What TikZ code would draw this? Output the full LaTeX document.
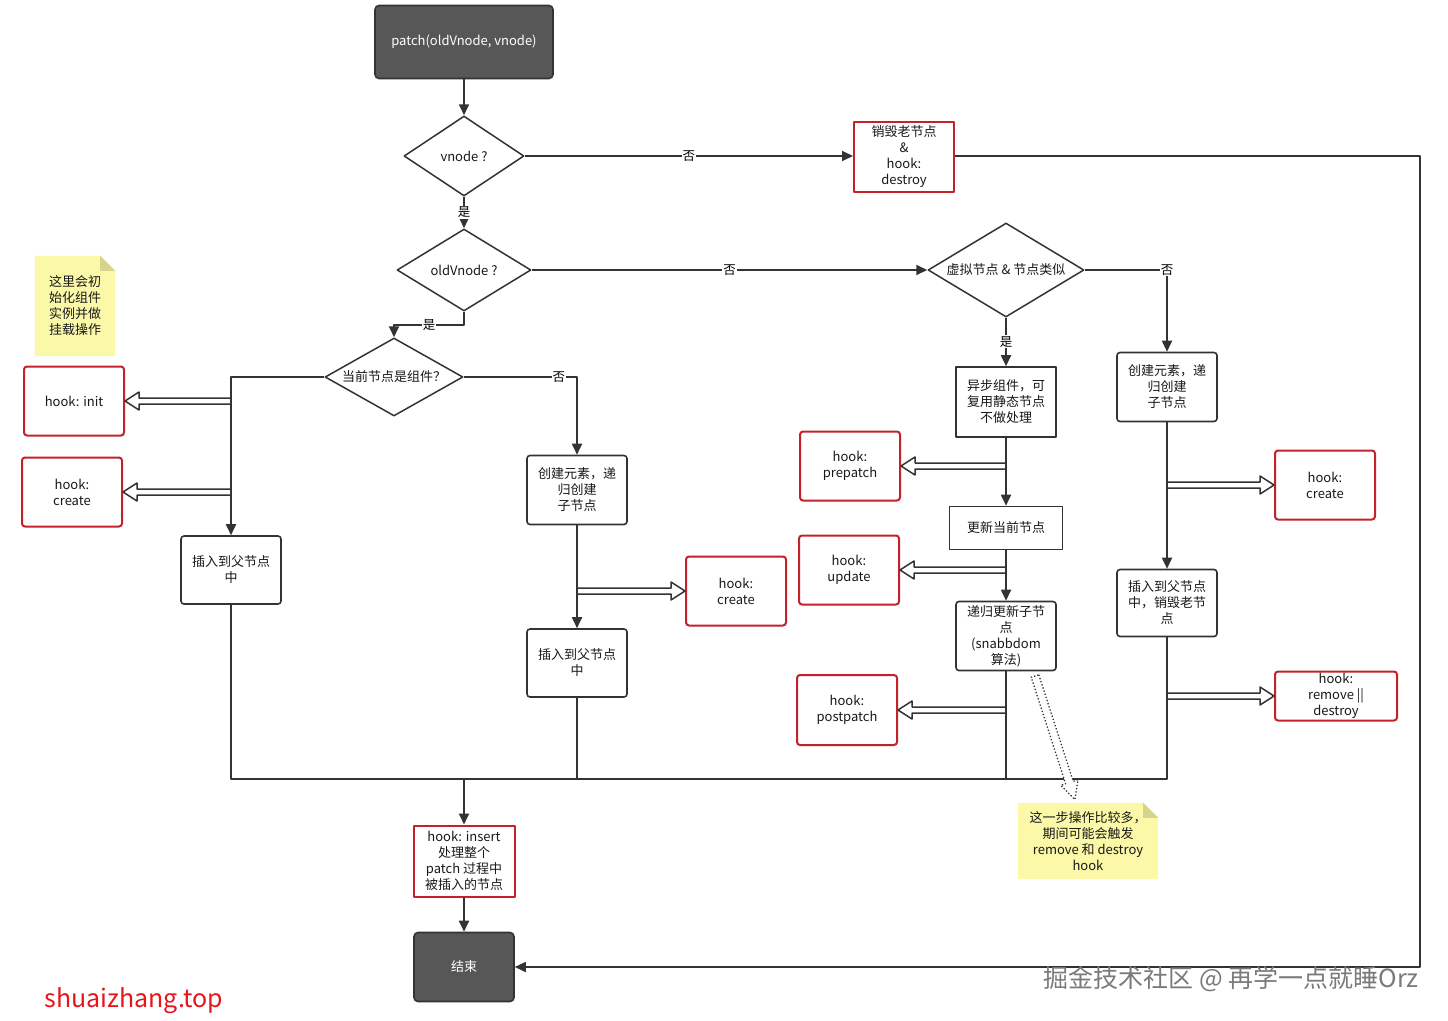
\documentclass[tikz,border=0pt]{standalone}
\usepackage{fontspec}
\setmainfont{Noto Sans CJK SC}
\usetikzlibrary{shapes.geometric,arrows.meta,calc,backgrounds}
\definecolor{lc}{HTML}{333333}
\definecolor{hred}{RGB}{196,34,42}
\definecolor{dark}{HTML}{575757}
\definecolor{notey}{HTML}{FBF8A8}
\definecolor{notefold}{HTML}{D6D38C}
\definecolor{wmgray}{HTML}{7A7A7A}
\definecolor{sitered}{HTML}{E8141B}
\newcommand{\hollowleft}[2]{\draw[hollow] ($(#1 |- #2)+(0,-3)$) -- ($(#2.east)+(14,-3)$) -- ++(0,-6) -- (#2.east) -- ($(#2.east)+(14,9)$) -- ++(0,-6) -- ($(#1 |- #2)+(0,3)$);}
\newcommand{\hollowright}[2]{\draw[hollow] ($(#1 |- #2)+(0,-3)$) -- ($(#2.west)+(-14,-3)$) -- ++(0,-6) -- (#2.west) -- ($(#2.west)+(-14,9)$) -- ++(0,-6) -- ($(#1 |- #2)+(0,3)$);}
\begin{document}
\begin{tikzpicture}[x=1pt,y=-1pt,line join=round,
  font=\fontsize{13}{16}\selectfont,
  base/.style={align=center, inner sep=0pt, text=black!90},
  blk/.style={base, draw=lc, line width=1.6pt, rounded corners=3pt, minimum width=100pt, minimum height=69pt},
  sq/.style={blk, rounded corners=0pt},
  redbox/.style={base, draw=hred, line width=2pt, rounded corners=3pt, minimum width=100pt, minimum height=69pt},
  darkbox/.style={base, draw=lc, fill=dark, text=white, line width=1.6pt, rounded corners=4pt},
  dia/.style={base, diamond, draw=lc, line width=1.5pt},
  note/.style={base},
  lbl/.style={fill=white, inner sep=1pt, font=\fontsize{12.5}{14}\selectfont},
  conn/.style={draw=lc, line width=1.8pt},
  arr/.style={conn, -{Triangle[length=11pt,width=10pt]}},
  hollow/.style={draw=lc, line width=1.5pt, fill=white}]
\useasboundingbox (0,0) rectangle (1448,1020);

% nodes
\node[darkbox, minimum width=178pt, minimum height=73pt] (start) at (464,42) {patch(oldVnode, vnode)};
\node[dia, aspect=1.5, minimum width=120pt, minimum height=80pt] (vn) at (464,156) {vnode ?};
\node[redbox, minimum height=70pt, rounded corners=0pt] (des) at (904,157) {销毁老节点\\\&\\hook:\\destroy};
\node[dia, aspect=1.63, minimum width=134pt, minimum height=82pt] (old) at (464,270) {oldVnode ?};
\node[dia, aspect=1.66, minimum width=156pt, minimum height=94pt] (sim) at (1006,270) {虚拟节点 \& 节点类似};
\node[dia, aspect=1.77, minimum width=138pt, minimum height=78pt] (comp) at (394,377) {当前节点是组件？};

\node[redbox] (init) at (74,401) {hook: init};
\node[redbox] (crL) at (72,492) {hook:\\create};
\node[blk, minimum height=68pt] (insL) at (231,570) {插入到父节点\\中};
\node[blk] (crM) at (577,490) {创建元素，递\\归创建\\子节点};
\node[redbox] (hcM) at (736,591) {hook:\\create};
\node[blk, minimum height=68pt] (insM) at (577,663) {插入到父节点\\中};

\node[sq, minimum height=70pt] (async) at (1006,402) {异步组件，可\\复用静态节点\\不做处理};
\node[redbox] (pre) at (850,466) {hook:\\prepatch};
\node[sq, minimum width=113pt, minimum height=43pt] (upd) at (1006,528) {更新当前节点};
\node[redbox] (hup) at (849,570) {hook:\\update};
\node[blk] (rec) at (1006,636) {递归更新子节\\点\\(snabbdom\\算法)};
\node[redbox, minimum height=70pt] (post) at (847,710) {hook:\\postpatch};

\node[blk] (crR) at (1167,387) {创建元素，递\\归创建\\子节点};
\node[redbox] (hcR) at (1325,485) {hook:\\create};
\node[blk, minimum height=67pt] (insR) at (1167,603) {插入到父节点\\中，销毁老节\\点};
\node[redbox, minimum width=122pt, minimum height=49pt] (hrm) at (1336,696) {hook:\\remove ||\\destroy};

\node[redbox, minimum width=101pt, minimum height=71pt, rounded corners=0pt] (hins) at (464,861) {hook: insert\\处理整个\\patch 过程中\\被插入的节点};
\node[darkbox, minimum width=100pt, minimum height=69pt] (end) at (464,967) {结束};

\node[note, minimum width=80pt, minimum height=100pt] (n1) at (75,306) {这里会初\\始化组件\\实例并做\\挂载操作};
\node[note, minimum width=140pt, minimum height=76pt] (n2) at (1088,841) {这一步操作比较多，\\期间可能会触发\\remove 和 destroy\\hook};

\begin{scope}[on background layer]
\fill[white] (0,0) rectangle (1448,1020);
\fill[notey] (n1.north west) -- ($(n1.north east)+(-15,0)$) -- ($(n1.north east)+(0,15)$) -- (n1.south east) -- (n1.south west) -- cycle;
\fill[notefold] ($(n1.north east)+(-15,0)$) -- ($(n1.north east)+(0,15)$) -- ($(n1.north east)+(-15,15)$) -- cycle;
\fill[notey] (n2.north west) -- ($(n2.north east)+(-15,0)$) -- ($(n2.north east)+(0,15)$) -- (n2.south east) -- (n2.south west) -- cycle;
\fill[notefold] ($(n2.north east)+(-15,0)$) -- ($(n2.north east)+(0,15)$) -- ($(n2.north east)+(-15,15)$) -- cycle;
\end{scope}

% hollow arrows
\hollowleft{insL}{init}
\hollowleft{insL}{crL}
\hollowright{crM}{hcM}
\hollowleft{async}{pre}
\hollowleft{async}{hup}
\hollowleft{async}{post}
\hollowright{crR}{hcR}
\hollowright{crR}{hrm}

% connectors
\draw[arr] (start) -- (vn);
\draw[arr] (vn.east) -- node[lbl]{否} (vn -| des.west);
\draw[arr] (vn) -- node[lbl]{是} (old);
\draw[arr] (old) -- node[lbl]{否} (sim);
\draw[arr] (old.south) -- ++(0,13) -| node[lbl,pos=0.25]{是} (comp.north);
\draw[arr] (comp.west) -| (insL.north);
\draw[arr] (comp.east) -| node[lbl,pos=0.42]{否} (crM.north);
\draw[arr] (crM) -- (insM);
\coordinate (m) at (464,779);
\draw[conn] (insL.south) |- (m);
\draw[conn] (insM.south) |- (m);
\draw[conn] (rec.south) |- (m);
\draw[conn] (insR.south) |- (m);
\draw[arr] (m) -- (hins);
\draw[arr] (hins) -- (end);
\coordinate (rt) at (1420,156);
\draw[arr] (des.east |- vn) -- (rt) |- (end.east);
\draw[arr] (sim) -- node[lbl]{是} (async);
\draw[arr] (sim.east) -| node[lbl,pos=0.5]{否} (crR.north);
\draw[arr] (async) -- (upd);
\draw[arr] (upd) -- (rec);
\draw[arr] (crR) -- (insR);

% dotted hollow arrow to note
\draw[lc, line width=1.3pt, dotted, fill=white] (1038.8,674.8) -- (1073.2,781.3) -- (1078.0,779.7) -- (1074.9,799.6) -- (1060.8,785.3) -- (1065.6,783.7) -- (1031.2,677.2) -- cycle;

% texts
\node[anchor=east, text=wmgray, font=\fontsize{25}{25}\selectfont] (wm) at (1422,979) {掘金技术社区 @ 再学一点就睡Orz};
\node[anchor=west, text=sitered, font=\fontsize{25}{25}\selectfont] (site) at (41,1001) {shuaizhang.top};
\end{tikzpicture}
\end{document}
